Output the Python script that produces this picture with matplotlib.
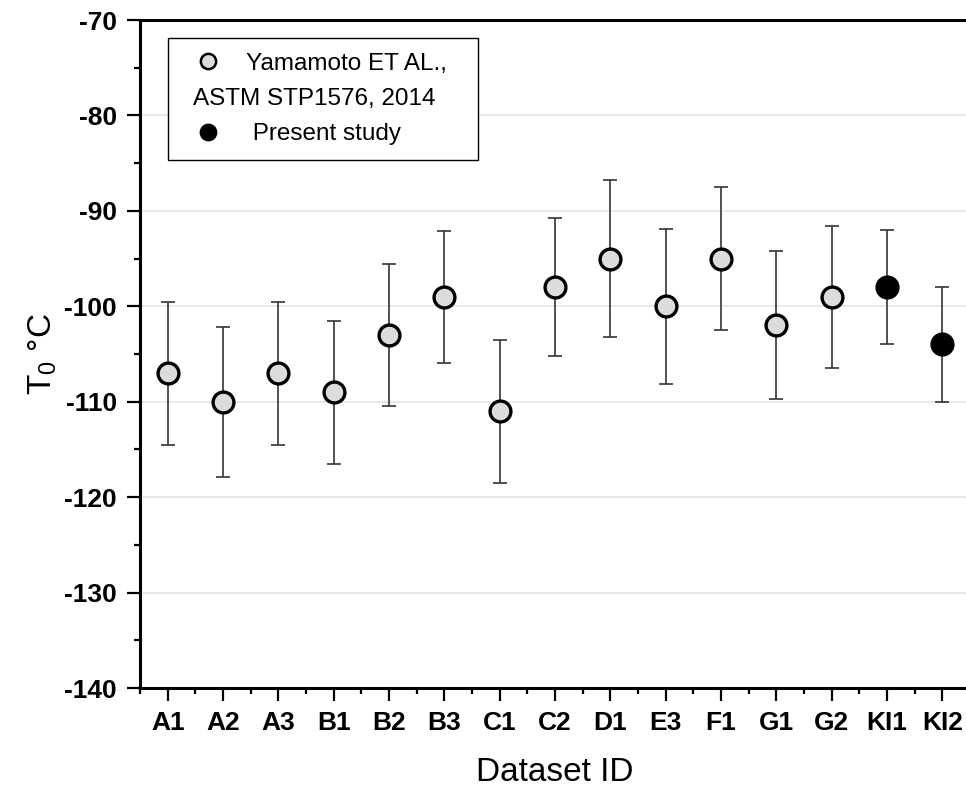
import matplotlib
matplotlib.use('Agg')
import matplotlib.pyplot as plt
from matplotlib.ticker import MultipleLocator, FixedLocator
from matplotlib.lines import Line2D
import numpy as np

plt.rcParams['font.family'] = ['Liberation Sans', 'DejaVu Sans']
plt.rcParams['mathtext.fontset'] = 'custom'
plt.rcParams['mathtext.rm'] = 'Liberation Sans'
plt.rcParams['mathtext.it'] = 'Liberation Sans:italic'
plt.rcParams['axes.unicode_minus'] = False

# data
ids = ['A1', 'A2', 'A3', 'B1', 'B2', 'B3', 'C1', 'C2', 'D1', 'E3', 'F1', 'G1', 'G2', 'KI1', 'KI2']
t0 = [-107, -110, -107, -109, -103, -99, -111, -98, -95, -100, -95, -102, -99, -98, -104]
err = [7.5, 7.85, 7.5, 7.5, 7.4, 6.9, 7.5, 7.2, 8.2, 8.15, 7.5, 7.75, 7.45, 5.95, 6.0]
present = [False] * 13 + [True, True]

x = np.arange(1, len(ids) + 1)
t0 = np.array(t0)
err = np.array(err)
present = np.array(present)

fig = plt.figure(figsize=(9.66, 7.92), dpi=100)
ax = fig.add_axes([140/966, 104/792, 830/966, 668/792])

ax.errorbar(x, t0, yerr=err, fmt='none', ecolor='#333333', elinewidth=1.2,
            capsize=5, capthick=1.2, zorder=2)
ax.plot(x[~present], t0[~present], 'o', ms=15, mfc='#dcdcdc', mec='black', mew=2.4, zorder=3)
ax.plot(x[present], t0[present], 'o', ms=15, mfc='black', mec='black', mew=2.4, zorder=3)

ax.set_xlim(0.5, 15.5)
ax.set_ylim(-140, -70)
ax.set_xticks(x)
ax.set_xticklabels(ids)
ax.xaxis.set_minor_locator(FixedLocator(np.arange(0.5, 16, 1)))
ax.yaxis.set_major_locator(MultipleLocator(10))
ax.yaxis.set_minor_locator(MultipleLocator(5))

ax.yaxis.grid(True, color='#e6e6e6', lw=1.3)
ax.set_axisbelow(True)

for s in ['left', 'bottom', 'top', 'right']:
    ax.spines[s].set_linewidth(2.2)

ax.tick_params(which='major', direction='out', length=9.5, width=1.6, labelsize=19, pad=7)
ax.tick_params(which='minor', direction='out', length=4.5, width=1.6)
ax.tick_params(top=False, right=False, which='both')
for lab in ax.get_xticklabels() + ax.get_yticklabels():
    lab.set_fontweight('bold')

ax.set_xlabel('Dataset ID', fontsize=24, labelpad=16)
ax.set_ylabel(r'$\mathrm{T_0}$ °C', fontsize=24, labelpad=4)

h1 = Line2D([], [], ls='none', marker='o', ms=11, mfc='#dcdcdc', mec='black', mew=1.8)
h2 = Line2D([], [], ls='none', marker='o', ms=11, mfc='black', mec='black', mew=1.8)
h3 = Line2D([], [], ls='none')
leg = ax.legend([h1, h3, h2], ['Yamamoto ET AL.,', 'x', ' Present study'],
                loc='upper left', bbox_to_anchor=(0.0337, 0.973, 0.3735, 0.0),
                mode='expand', fontsize=17.5,
                frameon=True, fancybox=False, edgecolor='black', framealpha=1,
                borderpad=0.6, labelspacing=0.55, handlelength=2.1, handletextpad=0.5,
                borderaxespad=0)
leg.get_frame().set_linewidth(1.0)
leg.get_texts()[1].set_alpha(0)
ax.text(0.0639, 0.881, 'ASTM STP1576, 2014', transform=ax.transAxes,
        fontsize=17.5, va='center', ha='left', zorder=6)

fig.savefig('out.png', dpi=100)
